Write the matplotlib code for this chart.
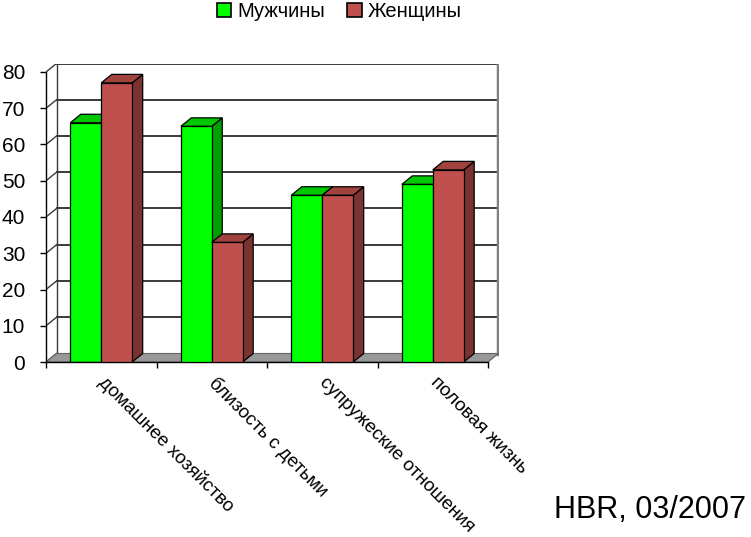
import matplotlib
matplotlib.use("Agg")
import matplotlib.pyplot as plt
from matplotlib.patches import Polygon, Patch

plt.rcParams['font.family'] = ['Liberation Sans', 'DejaVu Sans']

categories = ["домашнее хозяйство", "близость с детьми", "супружеские отношения", "половая жизнь"]
series_names = ["Мужчины", "Женщины"]
men = [66, 65, 46, 49]
women = [77, 33, 46, 53]
yticks = [0, 10, 20, 30, 40, 50, 60, 70, 80]
source = "HBR, 03/2007"

front_colors = ["#00FF00", "#C0504D"]
top_colors = ["#00C800", "#A0433F"]
side_colors = ["#00A000", "#7A3331"]
floor_color = "#999999"
grid_color = "#3a3a3a"

W, H = 751, 537
fig = plt.figure(figsize=(W / 100, H / 100), dpi=100)

# pixel geometry
x0_px, y0_px = 46, 362
cat_px = 110.5
unit_px = 3.625
ddx_px, ddy_px = 10.5, 8.5
ymax = 80
ncat = len(categories)

dxu = ddx_px / cat_px
dyu = ddy_px / unit_px
width_px = ncat * cat_px + ddx_px
height_px = (ymax + dyu) * unit_px
ax = fig.add_axes([x0_px / W, (H - y0_px) / H, width_px / W, height_px / H])
ax.set_xlim(0, ncat + dxu)
ax.set_ylim(0, ymax + dyu)
ax.patch.set_visible(False)
for s in ax.spines.values():
    s.set_visible(False)

# back wall gridlines and side wall diagonals
for v in yticks:
    ax.plot([dxu, ncat + dxu], [v + dyu, v + dyu], color=grid_color, lw=1.4, zorder=1)
    ax.plot([0, dxu], [v, v + dyu], color=grid_color, lw=1.0, zorder=1)
ax.plot([dxu, dxu], [dyu, ymax + dyu], color=grid_color, lw=1.0, zorder=1)
ax.plot([ncat + dxu, ncat + dxu], [dyu, ymax + dyu], color="#7f7f7f", lw=2.5, zorder=1)

# floor
ax.add_patch(Polygon([(0, 0), (ncat, 0), (ncat + dxu, dyu), (dxu, dyu)], closed=True,
                     facecolor=floor_color, edgecolor="#666666", lw=0.8, zorder=2))

# axes lines
ax.plot([0, 0], [0, ymax], color="black", lw=1.0, zorder=6, clip_on=False)
ax.plot([0, ncat], [0, 0], color="black", lw=1.0, zorder=6, clip_on=False)

bw = 0.28
series = [men, women]
z = 3
for i in range(ncat):
    c = i + 0.5
    for k, vals in enumerate(series):
        v = vals[i]
        left = c - bw + k * bw
        ax.bar(left, v, width=bw, align="edge", color=front_colors[k],
               edgecolor="black", linewidth=0.9, zorder=z + 2)
        ax.add_patch(Polygon([(left, v), (left + bw, v), (left + bw + dxu, v + dyu), (left + dxu, v + dyu)],
                             closed=True, facecolor=top_colors[k], edgecolor="black", lw=0.9, zorder=z + 1))
        ax.add_patch(Polygon([(left + bw, 0), (left + bw + dxu, dyu), (left + bw + dxu, v + dyu), (left + bw, v)],
                             closed=True, facecolor=side_colors[k], edgecolor="black", lw=0.9, zorder=z))
        z += 3

# ticks
ax.set_yticks(yticks)
ax.set_yticklabels([str(t) for t in yticks], fontsize=15)
ax.tick_params(axis="y", length=4, width=1, pad=11, color="black")
ax.set_xticks(range(ncat + 1))
ax.set_xticklabels([""] * (ncat + 1))
ax.tick_params(axis="x", which="major", length=4, width=1, color="black")
ax.set_xticks([i + 0.5 for i in range(ncat)], minor=True)
ax.set_xticklabels(categories, minor=True, fontsize=13.6)
ax.tick_params(axis="x", which="minor", length=0, pad=13)
for lab in ax.get_xticklabels(minor=True):
    lab.set_rotation(-45)
    lab.set_rotation_mode("anchor")
    lab.set_ha("left")
    lab.set_va("center")

# legend
handles = [Patch(facecolor=front_colors[k], edgecolor="black", linewidth=1.2) for k in range(2)]
fig.legend(handles, series_names, loc="upper center", bbox_to_anchor=(0.452, 1.03), ncol=2,
           frameon=False, fontsize=14.5, handlelength=0.7, handleheight=0.7, handletextpad=0.3,
           columnspacing=1.1)

fig.text(0.993, (H - 518) / H, source, ha="right", va="baseline", fontsize=22)

fig.savefig("out.png", dpi=100)
